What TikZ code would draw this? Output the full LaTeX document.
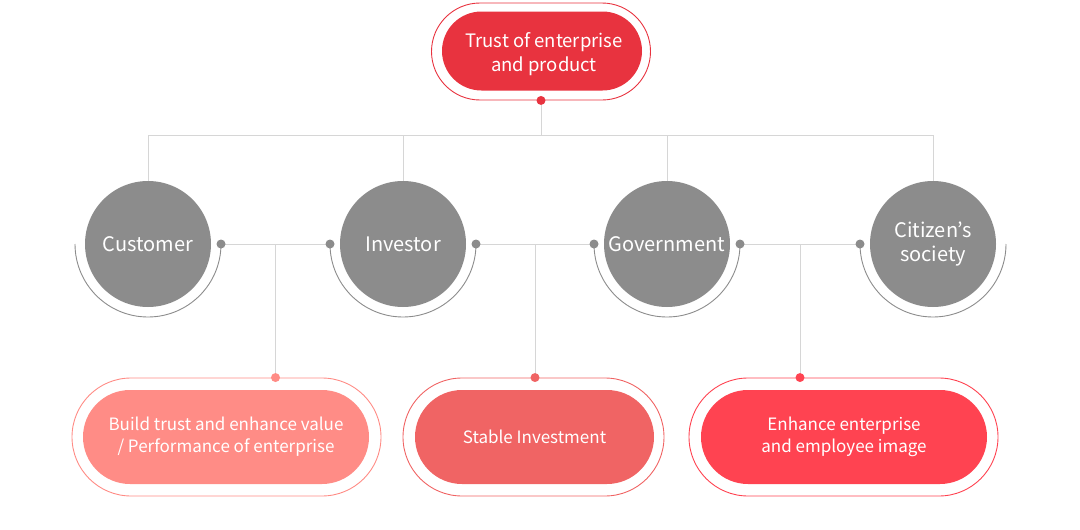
\documentclass[tikz,border=0pt]{standalone}
\usepackage{fontspec}
\setmainfont{Noto Sans CJK KR}
\usetikzlibrary{shapes.misc,calc}
\definecolor{trustred}{HTML}{E8333F}
\definecolor{buildpink}{HTML}{FF8C86}
\definecolor{stablered}{HTML}{F06464}
\definecolor{imagered}{HTML}{FF4351}
\definecolor{stonegray}{HTML}{8C8C8C}
\definecolor{linkgray}{HTML}{D6D6D6}

\begin{document}
\begin{tikzpicture}[x=1pt,y=-1pt,
    pill/.style={rounded rectangle,text=white,align=center,inner sep=0pt},
    shell/.style={rounded rectangle,draw,line width=0.9pt,inner sep=0pt},
    stake/.style={circle,fill=stonegray,text=white,align=center,minimum size=126pt,inner sep=0pt,font=\fontsize{20}{24}\selectfont},
    ring/.style={draw=stonegray,line width=0.9pt},
    link/.style={draw=linkgray,line width=1pt}]
  \useasboundingbox (0,0) rectangle (1080,530);

  % top
  \node[shell,draw=trustred,minimum width=219pt,minimum height=97pt] (trustout) at (541,51.5) {};
  \node[pill,fill=trustred,minimum width=200pt,minimum height=79pt] (trust) at (542,51) {};
  \node[text=white,align=center,inner sep=0pt,font=\fontsize{18.5}{24}\selectfont] (trusttext) at (544,54) {Trust of enterprise\\and product};
  \coordinate (trustdot) at (trustout.south);
  \coordinate (bus) at (trustdot |- 0,135);

  % stakeholders
  \node[stake] (cust) at (148,244) {Customer};
  \node[stake] (inv) at (403,244) {Investor};
  \node[stake] (gov) at (667,244) {Government};
  \node[stake] (citz) at (933,244) {Citizen’s\\society};

  \draw[ring] ([xshift=-73pt]cust.center) arc[start angle=180,end angle=360,radius=73pt];
  \draw[ring] ([xshift=-73pt]inv.center) arc[start angle=180,end angle=360,radius=73pt];
  \draw[ring] ([xshift=-73pt]gov.center) arc[start angle=180,end angle=360,radius=73pt];
  \draw[ring] ([xshift=-73pt]citz.center) arc[start angle=180,end angle=360,radius=73pt];

  \coordinate (custR) at ([xshift=73pt]cust.center);
  \coordinate (invL) at ([xshift=-73pt]inv.center);
  \coordinate (invR) at ([xshift=73pt]inv.center);
  \coordinate (govL) at ([xshift=-73pt]gov.center);
  \coordinate (govR) at ([xshift=73pt]gov.center);
  \coordinate (citzL) at ([xshift=-73pt]citz.center);

  % outcomes
  \node[shell,draw=buildpink,minimum width=309pt,minimum height=118pt] (buildout) at (226.5,437) {};
  \node[pill,fill=buildpink,minimum width=286pt,minimum height=94pt,font=\fontsize{17}{22}\selectfont] (build) at (226,437) {Build trust and enhance value\\/ Performance of enterprise};
  \node[shell,draw=stablered,minimum width=261pt,minimum height=118pt] (stableout) at (533.5,437) {};
  \node[pill,fill=stablered,minimum width=239pt,minimum height=94pt,font=\fontsize{17}{22}\selectfont] (stable) at (534.5,437) {Stable Investment};
  \node[shell,draw=imagered,minimum width=309pt,minimum height=118pt] (imageout) at (843.5,437) {};
  \node[pill,fill=imagered,minimum width=286pt,minimum height=94pt,font=\fontsize{17}{22}\selectfont] (image) at (844,437) {Enhance enterprise\\and employee image};

  \coordinate (buildfork) at ($(custR)!0.5!(invL)$);
  \coordinate (stablefork) at ($(invR)!0.5!(govL)$);
  \coordinate (imagefork) at ($(govR)!0.5!(citzL)$);
  \coordinate (builddot) at (buildfork |- buildout.north);
  \coordinate (stabledot) at (stablefork |- stableout.north);
  \coordinate (imagedot) at (imagefork |- imageout.north);

  % connectors
  \draw[link] (trustdot) -- (bus);
  \draw[link] (cust.north) -- (cust.north |- bus) -- (citz.north |- bus) -- (citz.north);
  \draw[link] (inv.north) -- (inv.north |- bus);
  \draw[link] (gov.north) -- (gov.north |- bus);
  \draw[link] (custR) -- (invL);
  \draw[link] (invR) -- (govL);
  \draw[link] (govR) -- (citzL);
  \draw[link] (buildfork) -- (builddot);
  \draw[link] (stablefork) -- (stabledot);
  \draw[link] (imagefork) -- (imagedot);

  % dots
  \fill[trustred] (trustdot) circle (4.5pt);
  \fill[stonegray] (custR) circle (4.5pt);
  \fill[stonegray] (invL) circle (4.5pt);
  \fill[stonegray] (invR) circle (4.5pt);
  \fill[stonegray] (govL) circle (4.5pt);
  \fill[stonegray] (govR) circle (4.5pt);
  \fill[stonegray] (citzL) circle (4.5pt);
  \fill[buildpink] (builddot) circle (4.5pt);
  \fill[stablered] (stabledot) circle (4.5pt);
  \fill[imagered] (imagedot) circle (4.5pt);
\end{tikzpicture}
\end{document}
